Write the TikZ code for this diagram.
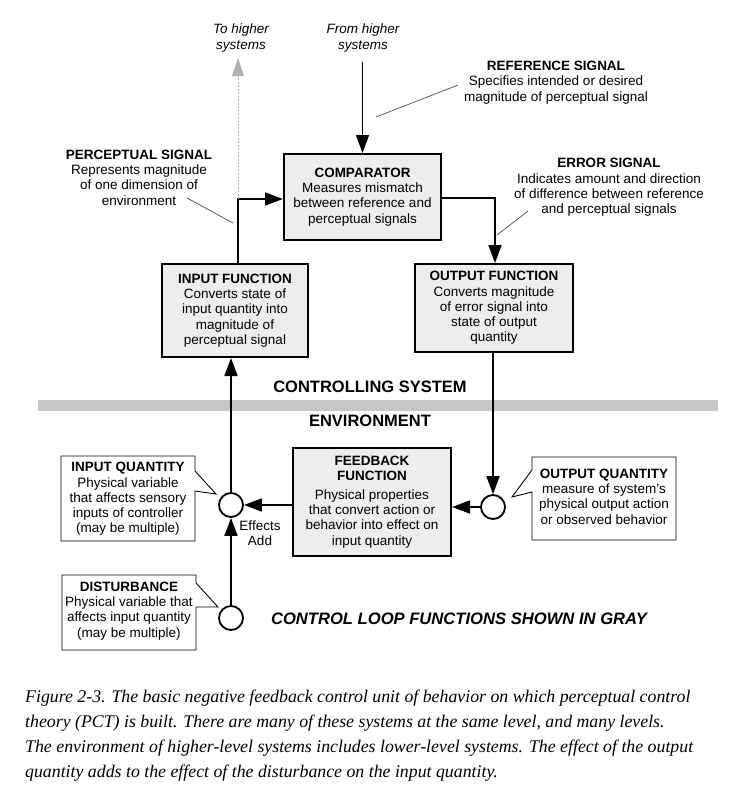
\documentclass[tikz,border=0pt]{standalone}
\usepackage{fontspec}
\setmainfont{Liberation Sans}
\newfontfamily\capfont{Liberation Serif}
\usetikzlibrary{arrows.meta}

\newcommand{\fs}{\fontsize{13.5}{15.3}\selectfont}
\newcommand{\bigfs}{\fontsize{16.5}{18}\selectfont\bfseries}

\tikzset{
  fn/.style={draw, line width=2pt, fill=black!7, align=center, inner sep=0pt, font=\fs},
  lbl/.style={align=center, inner sep=0pt, font=\fs},
  sum/.style={draw, circle, line width=1.8pt, fill=white, minimum size=24pt, inner sep=0pt},
  sig/.style={line width=1.8pt, -{Triangle[length=18pt,width=13pt]}},
  hig/.style={line width=1pt, black!30, dash pattern=on 2pt off 1.5pt, -{Triangle[length=18pt,width=12pt]}},
  lead/.style={line width=0.7pt, black!70},
  callout/.style={line width=0.9pt},
}

\begin{document}
\begin{tikzpicture}[x=1pt,y=-1pt]
  \useasboundingbox (0,0) rectangle (735,807);
  % band between system and environment
  \fill [gray!45] (38,400) rectangle (718,411);

  % controlling system
  \node [fn, minimum width=157pt, minimum height=86pt] (comp) at (362.5,197) {\textbf{COMPARATOR}\\Measures mismatch\\between reference and\\perceptual signals};
  \node [fn, minimum width=146pt, minimum height=93pt] (fin) at (235,310.5) {\textbf{INPUT FUNCTION}\\Converts state of\\input quantity into\\magnitude of\\perceptual signal};
  \node [fn, minimum width=158pt, minimum height=88pt] (fout) at (494,308) {\textbf{OUTPUT FUNCTION}\\Converts magnitude\\of error signal into\\state of output\\quantity};

  \node [lbl, font=\fs\itshape] (tohi) at (241,38) {To higher\\systems};
  \node [lbl, font=\fs\itshape] (fromhi) at (363,38) {From higher\\systems};
  \node [lbl] (reflbl) at (556,82.5) {\textbf{REFERENCE SIGNAL}\\Specifies intended or desired\\magnitude of perceptual signal};
  \node [lbl] (plbl) at (139,177.5) {\textbf{PERCEPTUAL SIGNAL}\\Represents magnitude\\of one dimension of\\environment};
  \node [lbl] (elbl) at (609,187.5) {\textbf{ERROR SIGNAL}\\Indicates amount and direction\\of difference between reference\\and perceptual signals};

  \node [inner sep=0pt, font=\bigfs] (cslbl) at (370,387) {CONTROLLING SYSTEM};
  \node [inner sep=0pt, font=\bigfs] (envlbl) at (370,421) {ENVIRONMENT};

  % environment
  \node [fn, minimum width=158pt, minimum height=108pt] (fb) at (372,502) {\textbf{FEEDBACK}\\\textbf{FUNCTION}\\[3pt]Physical properties\\that convert action or\\behavior into effect on\\input quantity};
  \node [sum] (qi) at (231,505) {};
  \node [sum] (qo) at (493,507) {};
  \node [sum] (dist) at (231,618) {};
  \node [lbl] (add) at (260,533) {Effects\\Add};

  \draw [callout] (61,456) -- (195,456) -- (195,471) -- (216,494) -- (195,491) -- (195,541) -- (61,541) -- cycle;
  \node [lbl] (qilbl) at (128,499) {\textbf{INPUT QUANTITY}\\Physical variable\\that affects sensory\\inputs of controller\\(may be multiple)};
  \draw [callout] (62,575) -- (196,575) -- (196,583) -- (218,607) -- (196,607) -- (196,650) -- (62,650) -- cycle;
  \node [lbl] (distlbl) at (129,611) {\textbf{DISTURBANCE}\\Physical variable that\\affects input quantity\\(may be multiple)};
  \draw [callout] (532,457) -- (676,457) -- (676,540) -- (532,540) -- (532,492) -- (512,497) -- (532,470) -- cycle;
  \node [lbl] (qolbl) at (604,496.5) {\textbf{OUTPUT QUANTITY}\\measure of system's\\physical output action\\or observed behavior};

  \node [inner sep=0pt, font=\fontsize{16.6}{18}\selectfont\bfseries\itshape] (gray) at (459,619) {CONTROL LOOP FUNCTIONS SHOWN IN GRAY};

  % signals
  \coordinate (pj) at (238,199);
  \coordinate (ej) at (495,198);
  \coordinate (hitop) at (238,58);
  \coordinate (reftop) at (362.5,62);
  \draw [sig] (fin.north -| pj) -- (pj) -- (comp.west |- pj);
  \draw [sig] (comp.east |- ej) -- (ej) -- (fout.north -| ej);
  \draw [hig] (pj) -- (hitop);
  \path [sig]
  (reftop) edge [line width=1.3pt] (comp.north)
  (fout.south -| qo) edge (qo.north)
  (qi.north) edge (fin.south -| qi)
  (dist.north) edge (qi.south)
  (fb.west |- qi) edge (qi.east)
  (qo.west) edge (fb.east |- qo);

  % leaders
  \coordinate (ra) at (458,85);
  \coordinate (rb) at (376,117);
  \coordinate (pa) at (187,198);
  \coordinate (pb) at (233,223);
  \coordinate (ea) at (528,211);
  \coordinate (eb) at (497,235);
  \draw [lead] (ra) -- (rb);
  \draw [lead] (pa) -- (pb);
  \draw [lead] (ea) -- (eb);

  % caption
  \node [anchor=north west, inner sep=0pt, align=left, font=\capfont\itshape\fontsize{17.8}{25}\selectfont] (cap) at (25,690) {Figure 2-3. The basic negative feedback control unit of behavior on which perceptual control\\theory (PCT) is built. There are many of these systems at the same level, and many levels.\\The environment of higher-level systems includes lower-level systems. The effect of the output\\quantity adds to the effect of the disturbance on the input quantity.};
\end{tikzpicture}
\end{document}
